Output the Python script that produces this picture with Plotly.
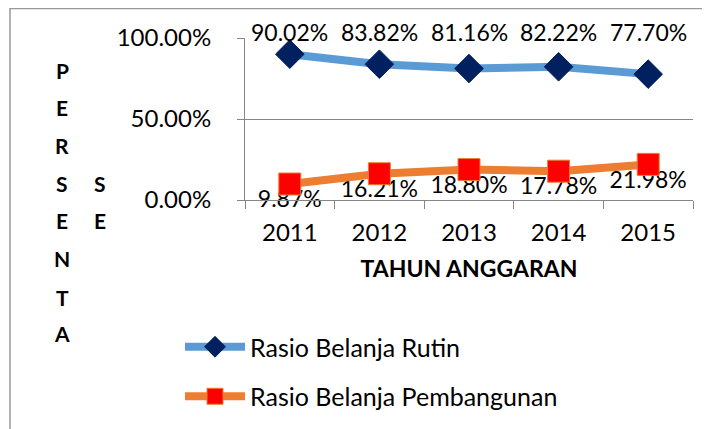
import plotly.graph_objects as go

years = ["2011", "2012", "2013", "2014", "2015"]
rutin = [0.9002, 0.8382, 0.8116, 0.8222, 0.7770]
pembangunan = [0.0987, 0.1621, 0.1880, 0.1778, 0.2198]
rutin_labels = ["90.02%", "83.82%", "81.16%", "82.22%", "77.70%"]
pemb_labels = ["9.87%", "16.21%", "18.80%", "17.78%", "21.98%"]
y_ticks = [0, 0.5, 1.0]
y_tick_text = ["0.00%", "50.00%", "100.00%"]
series_names = ["Rasio Belanja Rutin", "Rasio Belanja Pembangunan"]
ytitle_col1 = list("PERSENTA")
ytitle_col2 = list("SE")

FONT = "Lato"
OFF = 8  # page body margin of the browser
W, H = 710 - OFF, 429 - OFF
# plot area in screen pixels
SL, SR, ST, SB = 245, 693, 38, 200
L, R, T, B = SL - OFF, SR - OFF, ST - OFF, SB - OFF


def px(x):
    return (x - SL) / (SR - SL)


def py(y):
    return (SB - y) / (SB - ST)


fig = go.Figure()
# labels of the lower series drawn first so the line and markers sit above
fig.add_trace(go.Scatter(
    x=years, y=pembangunan, mode="markers+text", text=pemb_labels,
    textposition="bottom center", showlegend=False, hoverinfo="skip",
    marker=dict(size=8, color="rgba(0,0,0,0)"), cliponaxis=False,
    textfont=dict(family=FONT, size=23, color="black"),
))
fig.add_trace(go.Scatter(
    x=years, y=rutin, name=series_names[0], mode="lines+markers",
    line=dict(color="#5B9BD5", width=8),
    marker=dict(symbol="diamond", size=22, color="#002060",
                line=dict(color="#002060", width=1)),
    legendgroup="a", cliponaxis=False,
))
fig.add_trace(go.Scatter(
    x=years, y=pembangunan, name=series_names[1], mode="lines+markers",
    line=dict(color="#ED7D31", width=8),
    marker=dict(symbol="square", size=22, color="#FF0000",
                line=dict(color="#ED7D31", width=1)),
    legendgroup="b", cliponaxis=False,
))

annotations = []
for i, lab in enumerate(rutin_labels):
    annotations.append(dict(x=i, y=1.0, xref="x", yref="y", text=lab,
                            showarrow=False, yanchor="middle", yshift=6,
                            font=dict(family=FONT, size=23, color="black")))

col1_y = [70, 107, 145, 183, 220, 258, 297, 333]
for ch, yy in zip(ytitle_col1, col1_y):
    annotations.append(dict(x=px(62), y=py(yy), xref="paper", yref="paper",
                            xanchor="center", yanchor="middle",
                            text="<b>%s</b>" % ch, showarrow=False,
                            font=dict(family=FONT, size=21, color="black")))
for ch, yy in zip(ytitle_col2, col1_y[3:5]):
    annotations.append(dict(x=px(100), y=py(yy), xref="paper", yref="paper",
                            xanchor="center", yanchor="middle",
                            text="<b>%s</b>" % ch, showarrow=False,
                            font=dict(family=FONT, size=21, color="black")))

fig.update_layout(
    width=W, height=H,
    margin=dict(l=L, r=W - R, t=T, b=H - B, autoexpand=False),
    paper_bgcolor="white", plot_bgcolor="white",
    font=dict(family=FONT, size=22, color="black"),
    showlegend=True,
    legend=dict(xref="container", yref="container",
                x=(180 - OFF) / W, y=1 - (324 - OFF) / H,
                xanchor="left", yanchor="top",
                traceorder="grouped", tracegroupgap=14, itemwidth=60,
                font=dict(family=FONT, size=25, color="black"),
                bgcolor="rgba(0,0,0,0)"),
    annotations=annotations,
    shapes=[dict(type="rect", xref="paper", yref="paper",
                 x0=px(10), x1=px(740), y0=py(470), y1=py(8.5),
                 line=dict(color="#999999", width=1.5), layer="above")],
)
fig.update_xaxes(
    type="category", range=[-0.5, 4.5],
    showline=True, linecolor="#868686", linewidth=1,
    ticks="outside", tickson="boundaries", ticklen=8, tickcolor="#868686",
    showgrid=False, ticklabelstandoff=11,
    tickfont=dict(family=FONT, size=24),
    title=dict(text="<b>TAHUN ANGGARAN</b>", standoff=16,
               font=dict(family=FONT, size=23)),
)
fig.update_yaxes(
    range=[0, 1.0], tickvals=y_ticks, ticktext=y_tick_text,
    showline=True, linecolor="#868686", linewidth=1,
    ticks="outside", ticklen=7, tickcolor="#868686",
    showgrid=True, gridcolor="#868686", gridwidth=1,
    zeroline=False, ticklabelstandoff=21,
    tickfont=dict(family=FONT, size=24),
)
fig.write_html("out.html")
